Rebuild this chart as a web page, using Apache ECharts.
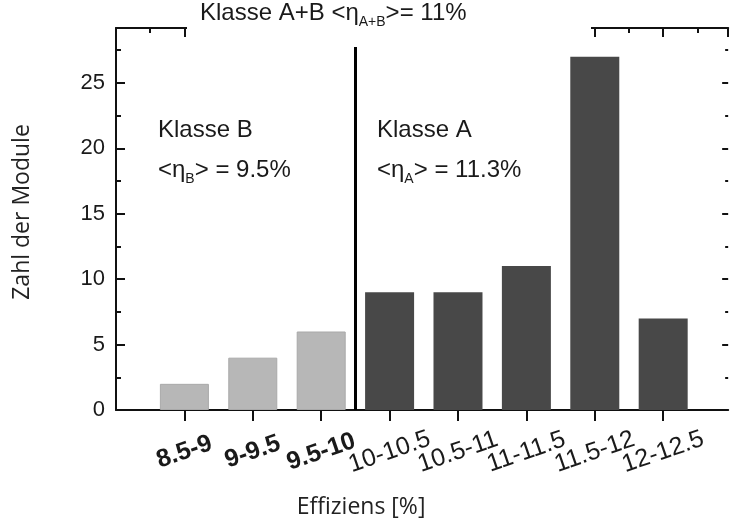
<!DOCTYPE html>
<html>
<head>
<meta charset="utf-8">
<title>Zahl der Module nach Effizienz</title>
<script src="https://cdn.jsdelivr.net/npm/echarts@6/dist/echarts.min.js"></script>
<style>
  html, body { margin: 0; padding: 0; background: #fff; }
  #chart { width: 731px; height: 528px; }
</style>
</head>
<body>
<div id="chart"></div>
<script>
// Effizienzklassen (x) und Anzahl der Module (y)
const categories = ['8.5-9', '9-9.5', '9.5-10', '10-10.5', '10.5-11', '11-11.5', '11.5-12', '12-12.5'];
const moduleCounts = [2, 4, 6, 9, 9, 11, 27, 7];
const klasse = ['B', 'B', 'B', 'A', 'A', 'A', 'A', 'A'];
const yTickLabels = [0, 5, 10, 15, 20, 25];

const textFont = '"Liberation Sans", Arial, sans-serif';
const nameFont = '"Open Sans", "Noto Sans", sans-serif';

function seriesData (k) {
  return categories
    .map((c, i) => [i, moduleCounts[i]])
    .filter((d) => klasse[d[0]] === k);
}

// Text mit tiefgestelltem Index
function subText (x, y, text) {
  return {
    type: 'text',
    x: x,
    y: y,
    z: 110,
    style: {
      text: text,
      fill: '#1a1a1a',
      fontSize: 24,
      fontFamily: textFont,
      lineHeight: 32,
      align: 'left',
      verticalAlign: 'middle',
      rich: {
        sub: { fontSize: 14, fontFamily: textFont, fill: '#1a1a1a', verticalAlign: 'bottom', lineHeight: 32 }
      }
    }
  };
}

const xMin = -1;
const xMax = 7.95;
const yMax = 29.2;
const tickStyle = { color: '#111', width: 2 };

// y-Achse ohne Beschriftung, nur Striche
function tickAxis (position, interval, length) {
  return {
    type: 'value',
    position: position,
    min: 0,
    max: yMax,
    interval: interval,
    splitLine: { show: false },
    axisLine: { show: false, onZero: false },
    axisTick: { show: true, inside: true, length: length, lineStyle: tickStyle },
    axisLabel: { show: false }
  };
}

// Beschriftung der Klassen; gerade/ungerade auf zwei Achsen verteilt,
// damit sich die schräg gestellten Texte nicht gegenseitig ausblenden
function labelAxis (parity, withName) {
  const axis = {
    type: 'value',
    position: 'bottom',
    min: xMin,
    max: xMax,
    interval: 1,
    splitLine: { show: false },
    axisLine: { show: false, onZero: false },
    axisTick: { show: false },
    axisLabel: {
      showMinLabel: true,
      showMaxLabel: true,
      hideOverlap: false,
      rotate: 19,
      align: 'center',
      verticalAlign: 'middle',
      margin: 42,
      fontSize: 25,
      fontFamily: textFont,
      color: '#1a1a1a',
      formatter: function (v) {
        if (!Number.isInteger(v) || v < 0 || v >= categories.length || v % 2 !== parity) {
          return '';
        }
        return klasse[v] === 'B' ? '{b|' + categories[v] + '}' : '{n|' + categories[v] + '}';
      },
      rich: {
        b: { fontSize: 25, fontWeight: 'bold', fontFamily: textFont, color: '#1a1a1a' },
        n: { fontSize: 25, fontFamily: textFont, color: '#1a1a1a' }
      }
    }
  };
  if (withName) {
    axis.name = 'Effiziens [%]';
    axis.nameLocation = 'middle';
    axis.nameGap = 86;
    axis.nameTextStyle = {
      fontSize: 23,
      fontFamily: nameFont,
      color: '#222',
      padding: [0, 122, 0, 0]
    };
  }
  return axis;
}

const option = {
  backgroundColor: '#fff',
  animation: false,
  grid: { left: 116, right: 0, top: 28, bottom: 118 },
  xAxis: [
    {
      type: 'value',
      position: 'bottom',
      min: xMin,
      max: xMax,
      interval: 1,
      splitLine: { show: false },
      axisLine: { onZero: false, lineStyle: tickStyle },
      axisTick: {
        inside: false,
        length: 11,
        lineStyle: tickStyle,
        customValues: categories.map((c, i) => i)
      },
      axisLabel: { show: false }
    },
    {
      type: 'value',
      position: 'top',
      min: xMin,
      max: xMax,
      interval: 1,
      splitLine: { show: false },
      axisLine: { show: true, onZero: false, lineStyle: tickStyle },
      axisTick: { inside: true, length: 9, lineStyle: tickStyle },
      minorTick: { show: true, splitNumber: 2, length: 5, lineStyle: tickStyle },
      axisLabel: { show: false }
    },
    labelAxis(0, true),
    labelAxis(1, false)
  ],
  yAxis: [
    {
      type: 'value',
      position: 'left',
      min: 0,
      max: yMax,
      interval: 5,
      splitLine: { show: false },
      axisLine: { show: true, onZero: false, lineStyle: tickStyle },
      axisTick: { show: true, inside: true, length: 9, lineStyle: tickStyle },
      axisLabel: {
        margin: 11,
        fontSize: 22,
        fontFamily: textFont,
        color: '#1a1a1a',
        formatter: (v) => (yTickLabels.indexOf(v) >= 0 ? String(v) : '')
      },
      name: 'Zahl der Module',
      nameLocation: 'middle',
      nameGap: 82,
      nameTextStyle: { fontSize: 23, fontFamily: nameFont, color: '#222', padding: [0, 0, 0, 14] }
    },
    tickAxis('left', 2.5, 5),
    tickAxis('right', 5, 6),
    tickAxis('right', 2.5, 3)
  ],
  series: [
    {
      name: 'Klasse B',
      type: 'bar',
      xAxisIndex: 0,
      yAxisIndex: 0,
      barWidth: 49,
      barGap: '-100%',
      itemStyle: { color: '#b7b7b7', borderColor: '#a9a9a9', borderWidth: 1 },
      data: seriesData('B')
    },
    {
      name: 'Klasse A',
      type: 'bar',
      xAxisIndex: 0,
      yAxisIndex: 0,
      barWidth: 49,
      barGap: '-100%',
      itemStyle: { color: '#484848' },
      data: seriesData('A'),
      markLine: {
        silent: true,
        symbol: ['none', 'none'],
        label: { show: false },
        lineStyle: { color: '#000', width: 3, type: 'solid' },
        data: [[{ coord: [2.5, 0] }, { coord: [2.5, 27.75] }]]
      }
    }
  ],
  graphic: [
    // Lücke in der oberen Achse für den Titel
    { type: 'rect', z: 100, shape: { x: 187, y: 16, width: 404, height: 24 }, style: { fill: '#fff' } },
    subText(200, 13, 'Klasse A+B <η{sub|A+B}>= 11%'),
    subText(158, 130, 'Klasse B'),
    subText(158, 170, '<η{sub|B}> = 9.5%'),
    subText(377, 130, 'Klasse A'),
    subText(377, 170, '<η{sub|A}> = 11.3%')
  ]
};

const myChart = echarts.init(document.getElementById('chart'));
myChart.setOption(option);
</script>
</body>
</html>
